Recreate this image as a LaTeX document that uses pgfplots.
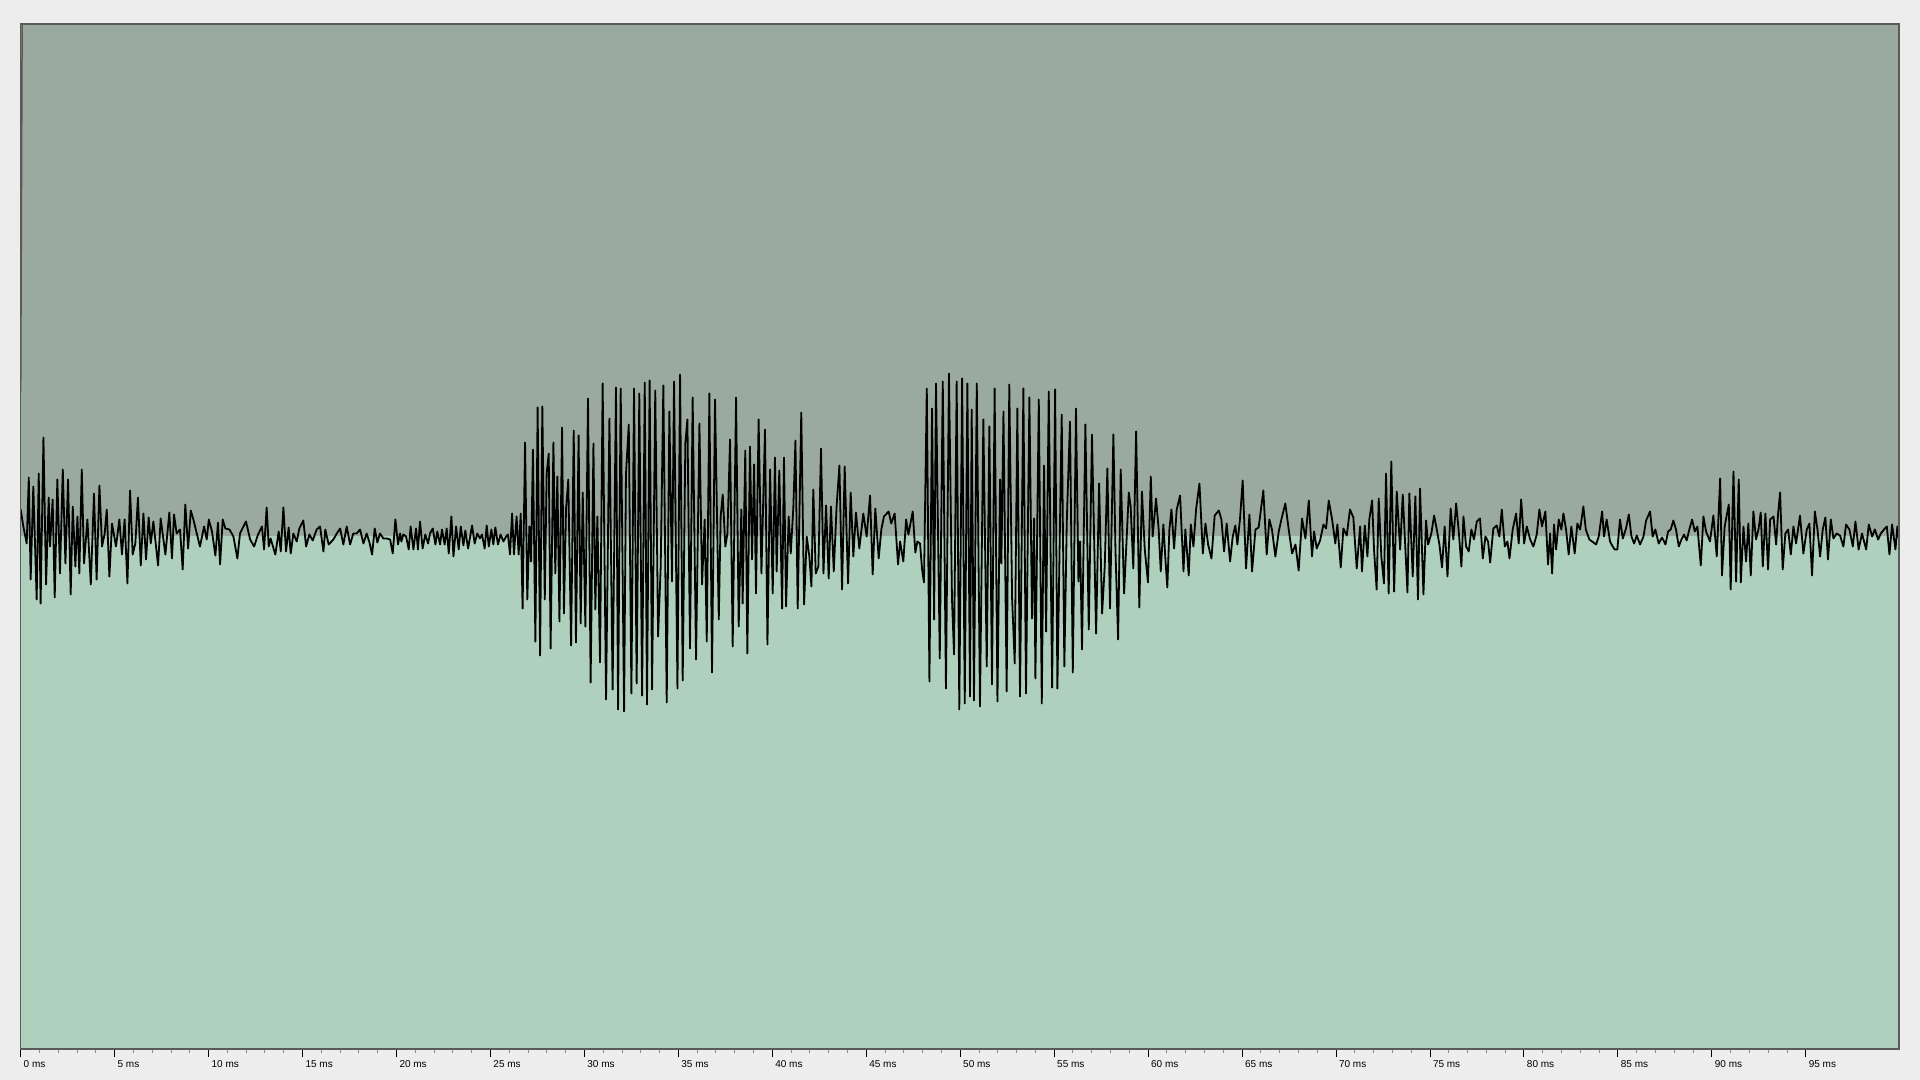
\documentclass[border=0pt]{standalone}
\usepackage{fontspec}
\setmainfont{Liberation Sans}
\usepackage{pgfplots}
\pgfplotsset{compat=1.18}

\definecolor{pagebg}{HTML}{EDEDED}
\definecolor{upperbg}{HTML}{9AAAA0}
\definecolor{lowerbg}{HTML}{AFD0BD}
\definecolor{framegray}{HTML}{5A5A5A}

\begin{document}
\begin{tikzpicture}
\fill[pagebg] (0,0) rectangle (960pt,540pt);
\begin{axis}[
    at={(10.35pt,15.5pt)}, anchor=south west,
    scale only axis, width=939.15pt, height=512.5pt,
    xmin=0, xmax=99.96, ymin=-512.5, ymax=512.5,
    axis line style={framegray, line width=0.75pt},
    xtick={0,5,...,95},
    xticklabels={0 ms,5 ms,10 ms,15 ms,20 ms,25 ms,30 ms,35 ms,40 ms,45 ms,50 ms,55 ms,60 ms,65 ms,70 ms,75 ms,80 ms,85 ms,90 ms,95 ms},
    minor x tick num=4,
    ytick=\empty,
    tick align=outside, xtick pos=bottom,
    major tick length=3.8pt, minor tick length=2.2pt,
    every major tick/.append style={black, line width=0.5pt},
    every minor tick/.append style={black!45, line width=0.5pt},
    xticklabel style={font=\fontsize{5}{6}\selectfont, anchor=north west, inner sep=0pt, xshift=1.3pt, yshift=-1.8pt},
    axis on top,
]
% two-tone background: above / below zero
\fill[upperbg] (axis cs:0,0) rectangle (axis cs:99.96,512.5);
\fill[lowerbg] (axis cs:0,-512.5) rectangle (axis cs:99.96,0);
\draw[framegray, line width=0.75pt] (axis cs:0,144) -- ++(1pt,0);

% waveform (time in ms, amplitude in arbitrary units)
\addplot[black, line width=0.9pt, line join=round] coordinates {
(0.00,27) (0.14,10) (0.32,-7) (0.43,59) (0.53,-43) (0.67,50) (0.75,0) (0.85,-63) (0.96,63) (1.06,-67)
(1.21,99) (1.35,-48) (1.49,39) (1.56,-10) (1.70,37) (1.81,-61) (1.95,57) (2.09,-37) (2.24,67) (2.38,-27)
(2.52,57) (2.66,-58) (2.77,30) (2.91,-30) (3.02,20) (3.12,-37) (3.25,67) (3.37,-27) (3.55,17) (3.73,-48)
(3.90,43) (4.04,-43) (4.19,51) (4.33,-10) (4.47,3) (4.58,27) (4.72,-40) (4.86,13) (5.07,-10) (5.25,17)
(5.39,-18) (5.53,17) (5.68,-47) (5.82,46) (5.96,-18) (6.10,-7) (6.24,39) (6.39,-29) (6.53,23) (6.67,-23)
(6.81,19) (6.92,-7) (7.06,15) (7.31,-29) (7.45,18) (7.70,-18) (7.91,24) (8.05,-22) (8.16,22) (8.30,3)
(8.48,7) (8.62,-33) (8.76,32) (8.91,-12) (9.05,26) (9.19,17) (9.37,3) (9.54,-10) (9.76,10) (9.90,-3)
(10.01,17) (10.18,5) (10.36,-19) (10.50,14) (10.61,-28) (10.75,17) (10.89,8) (11.11,7) (11.32,0) (11.53,-22)
(11.67,3) (11.99,15) (12.21,-3) (12.42,-10) (12.63,2) (12.84,10) (12.95,-13) (13.09,29) (13.20,-10) (13.30,-2)
(13.55,-18) (13.73,5) (13.84,-15) (13.98,29) (14.12,-15) (14.26,9) (14.37,-17) (14.51,3) (14.69,-5) (14.83,8)
(15.04,16) (15.19,-10) (15.36,2) (15.54,-4) (15.75,7) (15.93,10) (16.11,-15) (16.21,7) (16.39,-8) (16.64,-3)
(16.82,3) (17.00,8) (17.17,-8) (17.35,10) (17.53,-8) (17.70,3) (17.88,3) (18.06,7) (18.24,-7) (18.41,3)
(18.56,-6) (18.70,-18) (18.84,8) (18.98,-6) (19.12,3) (19.30,-2) (19.48,-2) (19.66,-3) (19.80,-17) (19.94,17)
(20.08,-8) (20.19,3) (20.26,-5) (20.36,2) (20.51,0) (20.65,-13) (20.75,10) (20.90,-13) (21.04,8) (21.14,-13)
(21.25,15) (21.39,-12) (21.53,2) (21.68,-7) (21.78,3) (21.93,8) (22.07,-8) (22.17,5) (22.32,-8) (22.42,7)
(22.56,-8) (22.67,8) (22.78,-17) (22.92,20) (23.03,-20) (23.17,10) (23.31,-13) (23.42,10) (23.56,-9) (23.66,6)
(23.81,-12) (24.02,11) (24.16,-7) (24.30,3) (24.44,-2) (24.55,2) (24.69,-12) (24.80,11) (24.91,-10) (25.05,7)
(25.15,-8) (25.26,9) (25.40,-8) (25.54,2) (25.69,-5) (25.83,0) (25.93,2) (26.04,-18) (26.15,23) (26.25,-18)
(26.39,20) (26.50,-18) (26.61,23) (26.71,-72) (26.84,94) (26.96,-63) (27.07,10) (27.16,-25) (27.26,87) (27.39,-105)
(27.51,129) (27.64,-119) (27.76,130) (27.89,-63) (27.99,63) (28.10,83) (28.20,-112) (28.35,94) (28.45,-37) (28.56,60)
(28.67,-85) (28.81,109) (28.91,-77) (29.02,27) (29.14,57) (29.29,-109) (29.43,106) (29.55,-106) (29.69,101) (29.80,-87)
(29.91,44) (30.05,-90) (30.19,138) (30.33,-146) (30.48,93) (30.58,-73) (30.69,20) (30.83,-126) (30.97,153) (31.15,-163)
(31.33,118) (31.50,-153) (31.68,149) (31.79,-173) (31.93,148) (32.11,-175) (32.21,62) (32.36,112) (32.50,-157) (32.64,148)
(32.78,-147) (32.92,143) (33.07,-159) (33.21,154) (33.33,-168) (33.47,156) (33.60,-153) (33.77,146) (33.92,-100) (34.06,-30)
(34.20,151) (34.38,-166) (34.52,125) (34.66,-45) (34.77,155) (34.95,-152) (35.09,162) (35.23,-144) (35.37,93) (35.48,117)
(35.62,-112) (35.76,139) (35.94,-123) (36.12,113) (36.26,-48) (36.40,17) (36.51,-105) (36.65,143) (36.79,-136) (36.95,137)
(37.15,-83) (37.25,20) (37.36,42) (37.50,-10) (37.61,3) (37.75,97) (37.89,-110) (38.07,139) (38.21,-90) (38.35,27)
(38.42,-67) (38.56,86) (38.67,-117) (38.81,90) (38.92,-23) (39.03,72) (39.13,-57) (39.27,117) (39.42,-37) (39.61,107)
(39.74,-108) (39.88,67) (40.02,-57) (40.14,79) (40.23,-35) (40.37,66) (40.52,-72) (40.62,79) (40.73,-70) (40.87,20)
(40.98,-17) (41.12,30) (41.23,96) (41.35,-72) (41.54,124) (41.69,-68) (41.83,0) (41.97,-20) (42.08,-50) (42.18,47)
(42.31,-37) (42.45,-30) (42.59,88) (42.72,-37) (42.86,31) (43.00,-42) (43.12,30) (43.27,-35) (43.42,30) (43.57,71)
(43.71,-53) (43.85,70) (44.03,-47) (44.17,44) (44.31,-20) (44.45,24) (44.63,-12) (44.84,23) (45.02,0) (45.20,41)
(45.34,-38) (45.48,28) (45.66,-22) (45.80,7) (45.94,20) (46.19,25) (46.33,13) (46.51,23) (46.69,-28) (46.80,-5)
(46.97,-25) (47.12,17) (47.24,2) (47.47,25) (47.61,-16) (47.72,-5) (47.86,-7) (47.97,-33) (48.07,-46) (48.22,148)
(48.36,-145) (48.50,128) (48.61,-83) (48.71,153) (48.91,-122) (49.07,155) (49.24,-152) (49.40,163) (49.56,-62) (49.67,-118)
(49.81,155) (49.95,-173) (50.10,158) (50.24,-167) (50.38,153) (50.52,-160) (50.61,127) (50.73,-164) (50.88,153) (51.05,-170)
(51.23,117) (51.41,-130) (51.55,110) (51.69,-148) (51.83,148) (51.98,-165) (52.12,57) (52.19,-27) (52.30,125) (52.47,-155)
(52.61,152) (52.76,-62) (52.90,-127) (53.04,128) (53.18,-160) (53.36,148) (53.50,-157) (53.68,139) (53.82,-82) (53.93,18)
(54.00,-142) (54.18,137) (54.34,-167) (54.46,71) (54.57,-95) (54.71,145) (54.89,-151) (55.05,147) (55.17,-152) (55.40,122)
(55.54,-130) (55.67,15) (55.84,115) (55.99,-136) (56.16,128) (56.29,-45) (56.38,-5) (56.48,-113) (56.66,112) (56.84,-93)
(57.01,102) (57.23,-97) (57.39,53) (57.55,-77) (57.69,-30) (57.83,68) (57.97,-72) (58.15,102) (58.26,-13) (58.40,-103)
(58.54,67) (58.72,-57) (58.97,44) (59.07,30) (59.21,-32) (59.36,105) (59.53,-71) (59.67,45) (59.82,-13) (59.99,-46)
(60.14,60) (60.24,0) (60.42,38) (60.56,7) (60.67,-35) (60.81,12) (60.92,-23) (61.02,-51) (61.13,7) (61.24,27)
(61.38,-12) (61.52,27) (61.70,41) (61.88,-35) (61.98,7) (62.16,-39) (62.27,12) (62.41,-10) (62.55,27) (62.73,53)
(62.91,-17) (63.05,13) (63.19,-8) (63.37,-22) (63.54,21) (63.76,26) (63.90,17) (64.04,-15) (64.18,13) (64.36,-25)
(64.50,0) (64.64,11) (64.75,-8) (64.89,18) (65.03,56) (65.21,-32) (65.39,22) (65.53,-35) (65.71,7) (65.88,9)
(66.13,46) (66.31,-18) (66.45,17) (66.59,7) (66.77,-20) (66.95,5) (67.09,17) (67.30,33) (67.48,7) (67.66,-17)
(67.84,-8) (68.01,-34) (68.19,18) (68.37,-2) (68.55,36) (68.72,-20) (68.83,5) (68.97,-12) (69.15,-4) (69.33,12)
(69.47,8) (69.61,36) (69.79,17) (69.96,-7) (70.07,12) (70.25,-31) (70.39,8) (70.57,1) (70.74,27) (70.92,19)
(71.10,-32) (71.28,10) (71.38,-35) (71.53,11) (71.67,-20) (71.77,17) (71.92,36) (72.02,-13) (72.16,-53) (72.27,38)
(72.41,-20) (72.55,-47) (72.66,63) (72.80,-57) (72.94,75) (73.09,-55) (73.23,45) (73.41,-13) (73.55,42) (73.65,3)
(73.80,-56) (73.90,43) (74.08,-40) (74.22,40) (74.36,-63) (74.47,48) (74.65,-58) (74.79,16) (74.90,-8) (75.07,3)
(75.22,21) (75.36,7) (75.50,-8) (75.64,-31) (75.78,10) (75.93,-40) (76.10,28) (76.24,-3) (76.39,33) (76.53,5)
(76.67,-30) (76.78,20) (76.92,-10) (77.06,-15) (77.20,7) (77.34,-3) (77.49,15) (77.66,18) (77.81,-22) (77.95,0)
(78.09,-5) (78.20,-26) (78.37,8) (78.55,11) (78.69,0) (78.82,27) (78.98,-10) (79.12,-5) (79.23,-22) (79.40,7)
(79.58,23) (79.72,-7) (79.85,37) (80.01,-7) (80.15,10) (80.33,-3) (80.50,-10) (80.68,2) (80.82,27) (80.96,10)
(81.14,25) (81.28,-28) (81.39,3) (81.50,-37) (81.60,12) (81.71,-13) (81.85,17) (81.99,7) (82.10,23) (82.24,7)
(82.38,-18) (82.52,10) (82.70,-17) (82.84,13) (82.99,7) (83.16,30) (83.29,7) (83.48,-3) (83.70,-6) (83.84,-8)
(83.98,0) (84.16,25) (84.26,0) (84.40,17) (84.58,-5) (84.72,-10) (84.83,-13) (84.97,-13) (85.11,17) (85.26,-2)
(85.43,8) (85.58,22) (85.72,0) (85.86,-7) (86.00,1) (86.18,-8) (86.36,0) (86.50,16) (86.71,25) (86.85,0)
(86.99,7) (87.17,-7) (87.35,-1) (87.53,-8) (87.67,5) (87.81,7) (87.95,16) (88.09,7) (88.24,-10) (88.38,-3)
(88.52,2) (88.66,-4) (88.80,7) (88.95,17) (89.09,5) (89.23,10) (89.41,-29) (89.55,20) (89.69,5) (89.90,-5)
(90.08,21) (90.26,-20) (90.44,58) (90.54,-39) (90.68,10) (90.90,32) (91.00,-53) (91.15,65) (91.29,-45) (91.43,57)
(91.54,-46) (91.68,10) (91.82,-25) (91.94,13) (92.07,-39) (92.21,25) (92.35,-3) (92.48,7) (92.60,24) (92.71,-30)
(92.85,23) (92.99,-33) (93.10,17) (93.28,20) (93.42,-8) (93.52,22) (93.63,44) (93.77,-33) (93.91,3) (94.06,7)
(94.20,-18) (94.34,10) (94.48,-7) (94.69,21) (94.87,-17) (95.05,7) (95.19,13) (95.33,-39) (95.48,25) (95.62,7)
(95.76,-20) (95.90,7) (96.04,19) (96.18,-23) (96.33,17) (96.47,-2) (96.64,3) (96.82,1) (97.00,-10) (97.14,12)
(97.32,7) (97.50,-10) (97.64,15) (97.81,-13) (97.99,3) (98.21,-13) (98.35,12) (98.53,0) (98.67,7) (98.85,-3)
(98.99,3) (99.16,7) (99.31,10) (99.45,-18) (99.59,12) (99.77,-13) (99.87,10) (99.96,-3)
};
\end{axis}
\end{tikzpicture}
\end{document}
